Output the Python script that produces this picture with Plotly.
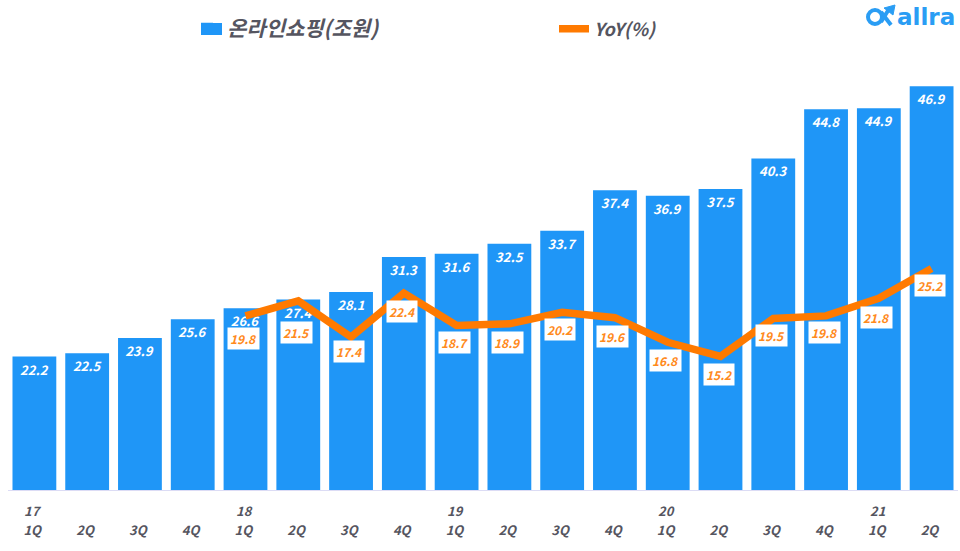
import plotly.graph_objects as go
from plotly.subplots import make_subplots

quarters = ["1Q", "2Q", "3Q", "4Q"] * 4 + ["1Q", "2Q"]
years = ["17", "", "", "", "18", "", "", "", "19", "", "", "", "20", "", "", "", "21", ""]
online_shopping = [22.2, 22.5, 23.9, 25.6, 26.6, 27.4, 28.1, 31.3, 31.6, 32.5, 33.7, 37.4, 36.9, 37.5, 40.3, 44.8, 44.9, 46.9]
yoy = [None, None, None, None, 19.8, 21.5, 17.4, 22.4, 18.7, 18.9, 20.2, 19.6, 16.8, 15.2, 19.5, 19.8, 21.8, 25.2]

# how far each yoy box sits under its line point (px)
yoy_box_shift = [0, 0, 0, 0, 23, 32, 15, 18, 17, 19, 17, 19, 18, 18, 17, 17, 19, 17]

BLUE = "#1f96f7"
ORANGE = "#ff7a00"
GREY = "#555560"
FONT = "Noto Sans CJK KR"
W, H = 960, 551
M_L, M_R, M_T, M_B = 8, 2, 60, 61
x = list(range(len(quarters)))


def px_x(v):
    return (v - M_L) / (W - M_L - M_R)


def px_y(v):
    return (H - M_B - v) / (H - M_T - M_B)


fig = make_subplots(specs=[[{"secondary_y": True}]])
fig.add_trace(go.Bar(x=x, y=online_shopping, name="<span style='font-size:21px'>온라인쇼핑(조원)</span>",
                     marker=dict(color=BLUE, line_width=0),
                     text=[f"{v:.1f}" for v in online_shopping], textposition="inside",
                     insidetextanchor="end", textangle=0, constraintext="none",
                     textfont=dict(color="white", size=13, family=FONT, weight="bold", style="italic")),
              secondary_y=False)
fig.add_trace(go.Scatter(x=x, y=yoy, name="YoY(%)", mode="lines",
                         line=dict(color=ORANGE, width=7.5)),
              secondary_y=True)

annotations = []
for i, v in enumerate(yoy):
    if v is None:
        continue
    annotations.append(dict(x=i, y=v, xref="x", yref="y2", text=f"{v:.1f}", showarrow=False,
                            xshift=-2, yshift=-yoy_box_shift[i], bgcolor="white", borderpad=2,
                            font=dict(color="#ff8a1c", size=12, family=FONT, weight="bold", style="italic")))
for i, label in enumerate(years):
    if label:
        annotations.append(dict(x=i, y=px_y(510), xref="x", yref="paper", yanchor="middle", text=label, showarrow=False,
                                xshift=-1,
                                font=dict(color=GREY, size=13, family=FONT, weight="bold", style="italic")))
annotations.append(dict(x=px_x(926), y=px_y(17), xref="paper", yref="paper", xanchor="center", yanchor="middle",
                        text="allra", showarrow=False,
                        font=dict(color="#2a9df4", size=23, family="DejaVu Sans", weight="bold")))

# logo mark and the wide legend swatch
logo = [
    dict(type="rect", xref="paper", yref="paper", x0=px_x(201), x1=px_x(222), y0=px_y(35), y1=px_y(23),
         fillcolor=BLUE, line_width=0),
    dict(type="circle", xref="paper", yref="paper", x0=px_x(868), x1=px_x(882), y0=px_y(24), y1=px_y(10),
         line=dict(color="#2a9df4", width=4)),
    dict(type="path", xref="paper", yref="paper",
         path=f"M {px_x(881)} {px_y(12)} L {px_x(891)} {px_y(25)}", line=dict(color="#2a9df4", width=4)),
    dict(type="path", xref="paper", yref="paper",
         path=f"M {px_x(881)} {px_y(22)} L {px_x(889)} {px_y(9)}", line=dict(color="#2a9df4", width=4)),
    dict(type="path", xref="paper", yref="paper", fillcolor="#2a9df4", line=dict(color="#2a9df4", width=1),
         path=f"M {px_x(884)} {px_y(8)} L {px_x(895)} {px_y(5)} L {px_x(893)} {px_y(15)} Z"),
]

fig.update_layout(
    width=W, height=H, margin=dict(l=M_L, r=M_R, t=M_T, b=M_B),
    paper_bgcolor="white", plot_bgcolor="white", bargap=0.17, annotations=annotations, shapes=logo,
    legend=dict(orientation="h", x=px_x(187), y=px_y(29), yanchor="middle", xanchor="left",
                entrywidth=322, entrywidthmode="pixels", traceorder="normal", bgcolor="rgba(0,0,0,0)",
                font=dict(color=GREY, size=18, family=FONT, weight="bold", style="italic")),
)
fig.update_xaxes(tickmode="array", tickvals=[i - 0.04 for i in x], ticktext=quarters, showline=True,
                 linecolor="#dcdcf5", linewidth=1,
                 showgrid=False, ticks="", ticklabelstandoff=28, range=[-0.5, 17.5], domain=[0, 1],
                 tickfont=dict(color=GREY, size=13, family=FONT, weight="bold", style="italic"))
fig.update_yaxes(visible=False, range=[10, 49.3], secondary_y=False)
fig.update_yaxes(visible=False, range=[0, 48.9], secondary_y=True)

fig.write_html("out.html", config=dict(displayModeBar=False), post_script="document.body.style.margin='0';")
